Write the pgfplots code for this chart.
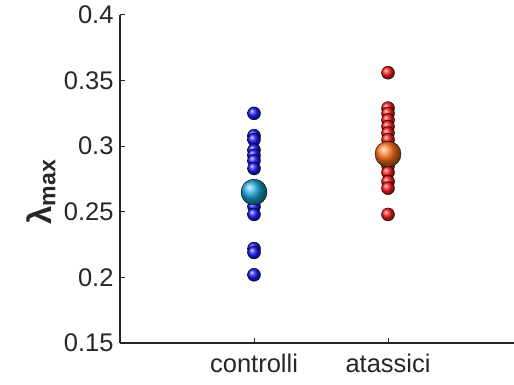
\documentclass[border=0pt]{standalone}
\usepackage{pgfplots}
\pgfplotsset{compat=1.18}
\usepackage{fontspec}
\setmainfont{Liberation Sans}
\definecolor{axgray}{rgb}{0.15,0.15,0.15}
\definecolor{dotblue}{rgb}{0.1,0.1,1.0}
\definecolor{bigcyan}{rgb}{0.1,0.65,0.85}
\definecolor{dotred}{rgb}{1.0,0.1,0.1}
\definecolor{bigorange}{rgb}{1.0,0.45,0.1}
\begin{document}
\begin{tikzpicture}[x=1pt,y=1pt]
\useasboundingbox (-120,-42) rectangle (394,343);
\begin{axis}[
  scale only axis, width=394pt, height=328pt,
  xmin=0, xmax=2.94, ymin=0.15, ymax=0.4,
  axis x line*=bottom, axis y line*=left,
  axis line style={axgray, line width=1.1pt},
  tick style={axgray, line width=1pt},
  tick align=inside, major tick length=5pt,
  xtick={1,2}, xticklabels={controlli,atassici},
  ytick={0.15,0.2,0.25,0.3,0.35,0.4},
  yticklabels={0.15,0.2,0.25,0.3,0.35,0.4},
  ticklabel style={font=\fontsize{25.5}{28}\selectfont, text=axgray},
  yticklabel style={xshift=-3pt},
  xticklabel style={yshift=-7pt},
  ylabel={\textbf{λ\textsubscript{max}}},
  every axis y label/.style={at={(axis description cs:-0.2,0.46)}, rotate=90, anchor=center, font=\fontsize{33}{35}\selectfont, text=axgray},
  clip=false,
]
\addplot[only marks, mark=ball, mark size=6.5pt, ball color=dotblue] coordinates {
(1,0.325) (1,0.308) (1,0.305) (1,0.297) (1,0.293) (1,0.289) (1,0.283)
(1,0.254) (1,0.248) (1,0.222) (1,0.219) (1,0.202)
};
\addplot[only marks, mark=ball, mark size=13pt, ball color=bigcyan] coordinates {(1,0.265)};
\addplot[only marks, mark=ball, mark size=6.5pt, ball color=dotred] coordinates {
(2,0.356) (2,0.329) (2,0.325) (2,0.320) (2,0.315) (2,0.310) (2,0.305)
(2,0.290) (2,0.285) (2,0.280) (2,0.273) (2,0.268) (2,0.248)
};
\addplot[only marks, mark=ball, mark size=13pt, ball color=bigorange] coordinates {(2,0.294)};
\end{axis}
\end{tikzpicture}
\end{document}
